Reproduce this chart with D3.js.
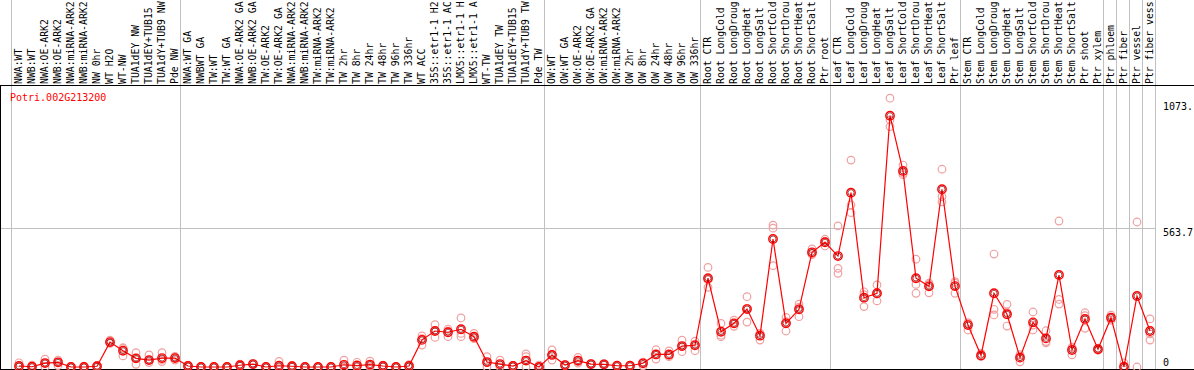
<!DOCTYPE html>
<html><head><meta charset="utf-8">
<script src="https://cdn.jsdelivr.net/npm/d3@7"></script>
<style>body{margin:0;background:#fff}svg{display:block}text{font-family:"DejaVu Sans Mono",monospace;font-size:10px}</style>
</head><body><svg id="c" width="1194" height="370"></svg>
<script>
const title = "Potri.002G213200";
// column labels as they appear in the reference (cut at the top edge)
const labels = ["NWA:WT","NWB:WT","NWA:OE-ARK2","NWB:OE-ARK2","NWA:miRNA-ARK2","NWB:miRNA-ARK2","NW 0hr","WT H2O","WT-NW","TUA1dEY NW","TUA1dEY+TUB15","TUA1dY+TUB9 NW","Pde NW",
"NWA:WT GA","NWBWT GA","TW:WT","TW:WT GA","NWA:OE-ARK2 GA","NWB:OE-ARK2 GA","TW:OE-ARK2","TW:OE-ARK2 GA","NWA:miRNA-ARK2","NWB:miRNA-ARK2","TW:miRNA-ARK2","TW:miRNA-ARK2","TW 2hr","TW 8hr","TW 24hr","TW 48hr","TW 96hr","TW 336hr","WT ACC","35S::etr1-1 H2","35S::etr1-1 AC","LMX5::etr1-1 H","LMX5::etr1-1 A","WT-TW","TUA1dEY TW","TUA1dEY+TUB15","TUA1dY+TUB9 TW","Pde TW",
"OW:WT","OW:WT GA","OW:OE-ARK2","OW:OE-ARK2 GA","OW:miRNA-ARK2","OW:miRNA-ARK2","OW 2hr","OW 8hr","OW 24hr","OW 48hr","OW 96hr","OW 336hr",
"Root CTR","Root LongCold","Root LongDroug","Root LongHeat","Root LongSalt","Root ShortCold","Root ShortDrou","Root ShortHeat","Root ShortSalt","Ptr root",
"Leaf CTR","Leaf LongCold","Leaf LongDroug","Leaf LongHeat","Leaf LongSalt","Leaf ShortCold","Leaf ShortDrou","Leaf ShortHeat","Leaf ShortSalt","Ptr leaf",
"Stem CTR","Stem LongCold","Stem LongDroug","Stem LongHeat","Stem LongSalt","Stem ShortCold","Stem ShortDrou","Stem ShortHeat","Stem ShortSalt","Ptr shoot","Ptr xylem",
"Ptr phloem","Ptr fiber","Ptr vessel","Ptr fiber vess"];
// number of columns in each group (group separators)
const groupSizes = [13,28,12,10,10,11,1,1,1,1];
const means = [4,1,16,19,0,0,3,101,66,35,28,36,36,
4,0,0,0,7,12,0,5,3,0,0,0,9,6,10,4,0,4,110,146,141,153,123,20,12,4,26,0,
49,8,26,12,11,5,5,15,51,51,85,88,
360,143,177,235,127,519,177,234,465,506,
450,707,281,299,1019,795,360,327,721,328,
170,47,299,214,38,181,116,373,69,195,72,
200,1,288,146];
const rep1 = [17,8,32,28,0,3,6,109,78,58,49,58,43,
8,0,2,0,12,14,0,23,6,0,0,2,28,19,24,8,0,10,126,172,154,199,136,42,28,6,53,8,
69,10,39,14,14,6,6,20,70,65,109,105,
404,177,190,285,136,575,201,255,479,518,
572,839,305,333,1090,819,437,340,802,346,
180,55,458,254,21,223,147,592,80,220,76,
210,17,588,195];
const rep2 = [0,0,16,19,0,0,3,96,45,11,18,22,28,
2,0,0,0,5,10,0,0,2,0,0,0,0,0,6,4,0,2,89,120,123,136,118,18,8,4,42,0,
28,8,16,10,10,5,5,5,32,42,62,66,
323,123,165,182,109,563,146,204,460,491,
400,657,245,268,975,780,335,301,691,299,
150,43,234,166,50,150,103,274,49,157,68,
190,0,0,109];
const rep3 = [0,0,0,6,0,0,0,99,75,36,28,30,38,
2,0,0,0,4,12,0,0,1,0,0,0,0,0,0,0,0,0,115,146,146,123,115,0,0,2,0,0,
50,6,22,12,9,4,4,18,51,46,84,93,
353,129,176,238,136,411,184,243,456,509,
380,626,293,296,1002,786,299,335,670,340,
176,43,211,222,43,170,98,255,78,208,72,
200,null,null,134];
const yTicks = [0,563.7,1073];
const yTickLabels = ["0","563.7","1073."];
const yMax = 1127.4;

const svg = d3.select("#c");
const W = 1194, H = 370;
const x = d3.scaleBand().domain(d3.range(labels.length)).range([11,1155]).padding(0);
const y = d3.scaleLinear().domain([0,yMax]).range([367,89]);
const px = i => x(i) + 8;

// group separator lines
let acc = 0; const seps = [0];
groupSizes.forEach(s => { acc += s; seps.push(acc); });
svg.append("g").selectAll("line").data(seps).join("line")
  .attr("x1", d => Math.round(d===labels.length ? 1155 : x(d)) + 0.5)
  .attr("x2", d => Math.round(d===labels.length ? 1155 : x(d)) + 0.5)
  .attr("y1",0).attr("y2",H).attr("stroke","#c0c0c0").attr("stroke-width",1);

// horizontal grid at middle tick
svg.append("line").attr("x1",0).attr("x2",1155).attr("y1",Math.round(y(563.7))+0.5).attr("y2",Math.round(y(563.7))+0.5)
  .attr("stroke","#c0c0c0");

// frame lines
svg.append("line").attr("x1",0).attr("x2",W).attr("y1",85.5).attr("y2",85.5).attr("stroke","#000");
svg.append("line").attr("x1",0).attr("x2",W).attr("y1",369.5).attr("y2",369.5).attr("stroke","#000");
svg.append("line").attr("x1",0.5).attr("x2",0.5).attr("y1",85).attr("y2",H).attr("stroke","#000");

// column labels
svg.append("g").selectAll("text").data(labels).join("text")
  .attr("transform",(d,i)=>`translate(${x(i)+11},84) rotate(-90)`)
  .style("font-size","9.8px")
  .attr("fill","#000").text(d=>d);

// title
svg.append("text").attr("x",10).attr("y",101).attr("fill","#ff0000").text(title);

// right axis labels
svg.append("g").selectAll("text").data(yTicks).join("text")
  .attr("x",1163)
  .attr("y",(d,i)=> d===0 ? y(d)-1 : y(d)+8)
  .attr("fill","#000").text((d,i)=>yTickLabels[i]);

// replicate points
const reps = [];
[rep1,rep2,rep3].forEach(r => r.forEach((v,i)=>{ if(v!==null) reps.push({i,v}); }));
svg.append("g").selectAll("circle").data(reps).join("circle")
  .attr("cx",d=>px(d.i)).attr("cy",d=>y(d.v)).attr("r",3.8)
  .attr("fill","none").attr("stroke","#f0a0a0").attr("stroke-width",1.2);

// mean line
svg.append("path").datum(means)
  .attr("d", d3.line().x((d,i)=>px(i)).y(d=>y(d)))
  .attr("fill","none").attr("stroke","#ff0000").attr("stroke-width",1.2);

// mean points
const mg = svg.append("g");
mg.selectAll("circle.o").data(means).join("circle").attr("class","o")
  .attr("cx",(d,i)=>px(i)).attr("cy",d=>y(d)).attr("r",4.2)
  .attr("fill","none").attr("stroke","#ff0000").attr("stroke-width",1.4);
mg.selectAll("circle.in").data(means).join("circle").attr("class","in")
  .attr("cx",(d,i)=>px(i)).attr("cy",d=>y(d)).attr("r",3)
  .attr("fill","none").attr("stroke","#800000").attr("stroke-width",0.7);
</script></body></html>
